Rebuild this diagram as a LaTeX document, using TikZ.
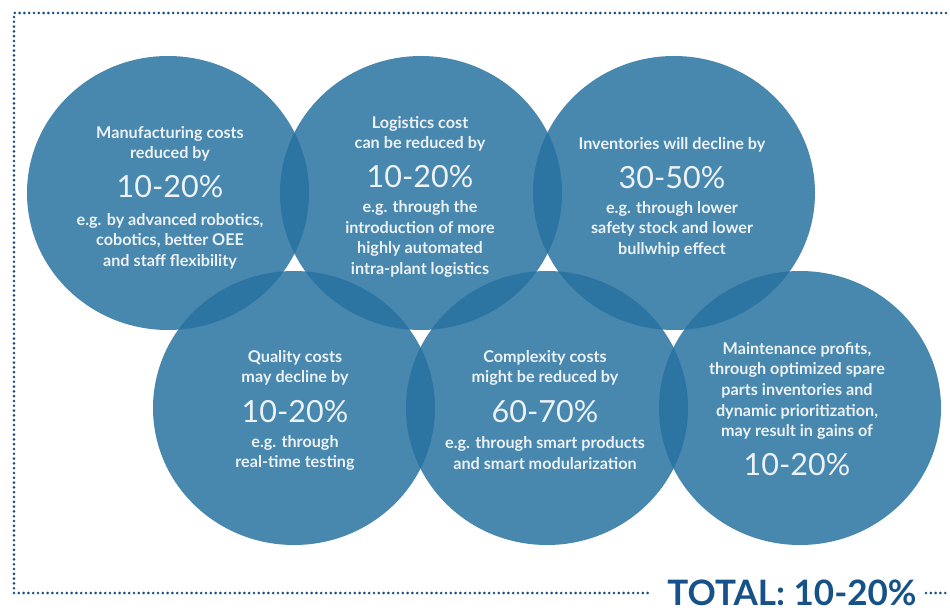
\documentclass[tikz,border=0pt]{standalone}
\usepackage{fontspec}
\setmainfont{Lato}
\usetikzlibrary{shapes.geometric}
\definecolor{circblue}{RGB}{40,114,160}
\definecolor{dotblue}{RGB}{24,78,128}
\definecolor{txtwhite}{RGB}{236,242,246}
\definecolor{totalblue}{RGB}{22,82,136}
\begin{document}
\begin{tikzpicture}[x=1pt,y=-1pt,
  bubble/.style={ellipse, minimum width=282pt, minimum height=274pt, inner sep=0pt,
                 fill=circblue, fill opacity=0.85, draw=none},
  smalltxt/.style={font=\bfseries\fontsize{16.2}{20.6}\selectfont, text=txtwhite, align=center, inner sep=0pt},
  bigtxt/.style={font=\fontsize{30.5}{30.5}\selectfont, text=txtwhite, inner sep=0pt},
  dotline/.style={draw=dotblue, line width=2.9pt, line cap=round, dash pattern=on 0pt off 4.8pt}]
\useasboundingbox[fill=white] (0,0) rectangle (950,612);

% frame
\coordinate (tl) at (14,13);
\coordinate (tr) at (946,13);
\coordinate (bl) at (14,593);
\coordinate (bm) at (650,593);
\coordinate (bn) at (926,593);
\coordinate (br) at (946,593);
\draw[dotline] (tr) -- (tl) -- (bl) -- (bm);
\draw[dotline] (bn) -- (br);
\node[font=\bfseries\fontsize{35}{35}\selectfont, text=totalblue, inner sep=0pt] (total) at (792,593) {TOTAL: 10-20\%};

% circles
\node[bubble] (c1) at (168,193) {};
\node[bubble] (c2) at (421,193) {};
\node[bubble] (c3) at (674,193) {};
\node[bubble] (c4) at (294,408) {};
\node[bubble] (c5) at (547,408) {};
\node[bubble] (c6) at (800,408) {};

% circle 1
\node[smalltxt] (t1a) at (170,144) {Manufacturing costs\\reduced by};
\node[bigtxt]   (t1b) at (170,187) {10-20\%};
\node[smalltxt] (t1c) at (170,241) {e.g. by advanced robotics,\\cobotics, better OEE\\and staff flexibility};
% circle 2
\node[smalltxt] (t2a) at (420,134) {Logistics cost\\can be reduced by};
\node[bigtxt]   (t2b) at (420,177) {10-20\%};
\node[smalltxt] (t2c) at (420,239) {e.g. through the\\introduction of more\\highly automated\\intra-plant logistics};
% circle 3
\node[smalltxt] (t3a) at (672,145) {Inventories will decline by};
\node[bigtxt]   (t3b) at (672,178) {30-50\%};
\node[smalltxt] (t3c) at (672,229) {e.g. through lower\\safety stock and lower\\bullwhip effect};
% circle 4
\node[smalltxt] (t4a) at (295,368) {Quality costs\\may decline by};
\node[bigtxt]   (t4b) at (295,412) {10-20\%};
\node[smalltxt] (t4c) at (295,453) {e.g. through\\real-time testing};
% circle 5
\node[smalltxt] (t5a) at (545,368) {Complexity costs\\might be reduced by};
\node[bigtxt]   (t5b) at (545,412) {60-70\%};
\node[smalltxt] (t5c) at (545,453) {e.g. through smart products\\and smart modularization};
% circle 6
\node[smalltxt] (t6a) at (797,391) {Maintenance profits,\\through optimized spare\\parts inventories and\\dynamic prioritization,\\may result in gains of};
\node[bigtxt]   (t6b) at (797,465) {10-20\%};
\end{tikzpicture}
\end{document}
